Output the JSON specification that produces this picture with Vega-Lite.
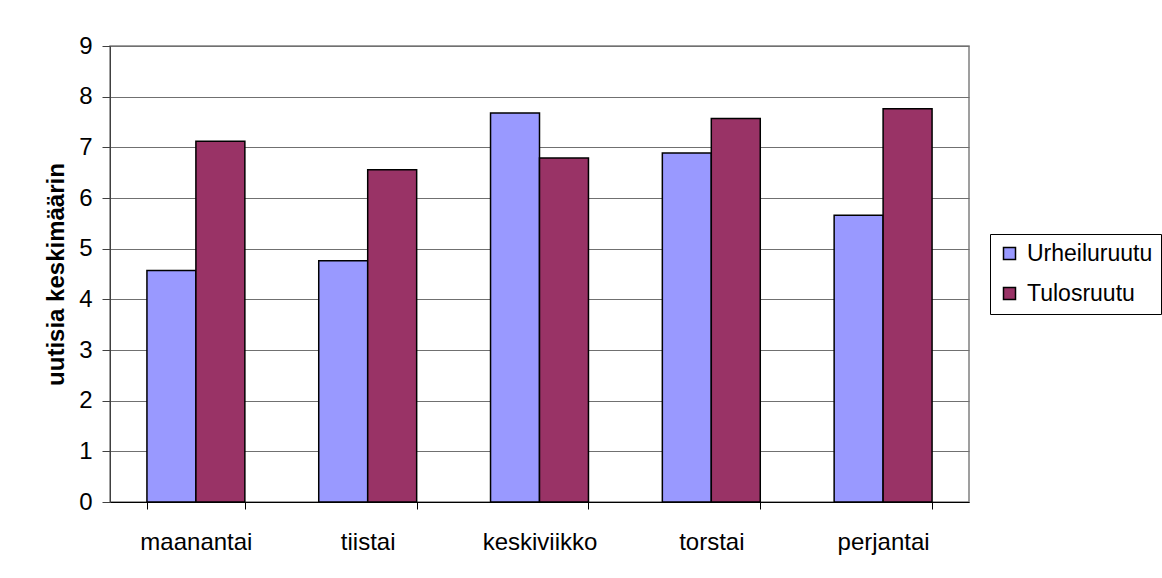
{
  "$schema": "https://vega.github.io/schema/vega-lite/v6.json",
  "autosize": {"type": "none"},
  "width": 859,
  "height": 456,
  "padding": {"left": 110, "top": 46, "right": 193, "bottom": 76},
  "background": "white",
  "data": {
    "values": [
      {"paiva": "maanantai", "ohjelma": "Urheiluruutu", "arvo": 4.57},
      {"paiva": "maanantai", "ohjelma": "Tulosruutu", "arvo": 7.12},
      {"paiva": "tiistai", "ohjelma": "Urheiluruutu", "arvo": 4.76},
      {"paiva": "tiistai", "ohjelma": "Tulosruutu", "arvo": 6.56},
      {"paiva": "keskiviikko", "ohjelma": "Urheiluruutu", "arvo": 7.68},
      {"paiva": "keskiviikko", "ohjelma": "Tulosruutu", "arvo": 6.79},
      {"paiva": "torstai", "ohjelma": "Urheiluruutu", "arvo": 6.89},
      {"paiva": "torstai", "ohjelma": "Tulosruutu", "arvo": 7.57},
      {"paiva": "perjantai", "ohjelma": "Urheiluruutu", "arvo": 5.66},
      {"paiva": "perjantai", "ohjelma": "Tulosruutu", "arvo": 7.76}
    ]
  },
  "mark": {"type": "bar", "stroke": "black", "strokeWidth": 1.5},
  "encoding": {
    "x": {
      "field": "paiva",
      "type": "nominal",
      "sort": ["maanantai", "tiistai", "keskiviikko", "torstai", "perjantai"],
      "scale": {"paddingInner": 0.43, "paddingOuter": 0.215},
      "axis": {
        "title": null,
        "labelAngle": 0,
        "tickBand": "extent",
        "tickSize": 7,
        "tickColor": "black",
        "domainColor": "black",
        "labelFont": "Liberation Sans",
        "labelFontSize": 24,
        "labelColor": "black",
        "labelPadding": 21,
        "grid": false
      }
    },
    "xOffset": {
      "field": "ohjelma",
      "type": "nominal",
      "sort": ["Urheiluruutu", "Tulosruutu"],
      "scale": {"paddingInner": 0, "paddingOuter": 0}
    },
    "y": {
      "field": "arvo",
      "type": "quantitative",
      "scale": {"domain": [0, 9], "nice": false},
      "axis": {
        "title": "uutisia keskimäärin",
        "titleFont": "Liberation Sans",
        "titleFontSize": 24,
        "titleFontWeight": "bold",
        "titleColor": "black",
        "titlePadding": 10,
        "values": [0, 1, 2, 3, 4, 5, 6, 7, 8, 9],
        "labelOverlap": false,
        "tickSize": 8,
        "tickColor": "#404040",
        "domainColor": "#404040",
        "labelFont": "Liberation Sans",
        "labelFontSize": 24,
        "labelColor": "black",
        "labelPadding": 10,
        "grid": true,
        "gridColor": "#707070",
        "gridWidth": 1
      }
    },
    "fill": {
      "field": "ohjelma",
      "type": "nominal",
      "sort": ["Urheiluruutu", "Tulosruutu"],
      "scale": {"domain": ["Urheiluruutu", "Tulosruutu"], "range": ["#9999FF", "#993366"]},
      "legend": {
        "title": null,
        "orient": "none",
        "legendX": 880,
        "legendY": 188,
        "strokeColor": "black",
        "padding": 8,
        "symbolType": "square",
        "symbolSize": 144,
        "symbolStrokeColor": "black",
        "symbolStrokeWidth": 1.5,
        "labelFont": "Liberation Sans",
        "labelFontSize": 23,
        "labelColor": "black",
        "labelLimit": 300,
        "rowPadding": 16,
        "labelOffset": 6
      }
    }
  },
  "config": {
    "view": {"stroke": "#808080", "strokeWidth": 1.5}
  }
}
